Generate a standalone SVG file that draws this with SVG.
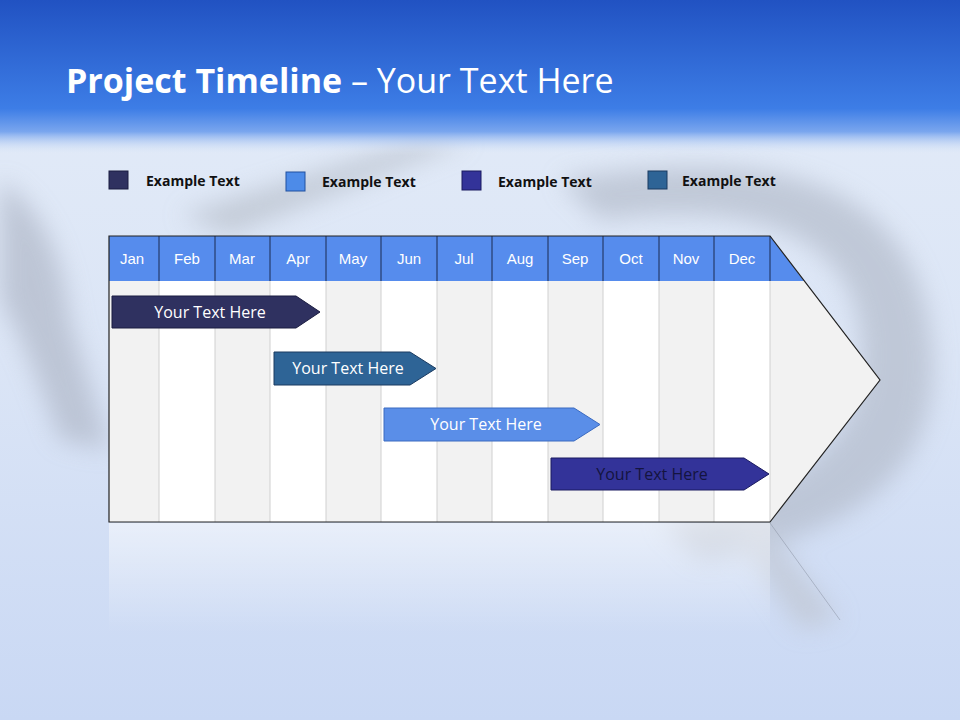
<svg xmlns="http://www.w3.org/2000/svg" width="960" height="720" viewBox="0 0 960 720">
<defs>
<linearGradient id="top" x1="0" y1="0" x2="0" y2="1"><stop offset="0" stop-color="#2152c2"/><stop offset="0.7" stop-color="#3d7de6"/><stop offset="0.85" stop-color="#7aa6ee"/><stop offset="1" stop-color="#e4ecf8" stop-opacity="0"/></linearGradient>
<linearGradient id="bg" x1="0" y1="0" x2="0" y2="1"><stop offset="0" stop-color="#e4ecf8"/><stop offset="0.5" stop-color="#dbe5f6"/><stop offset="1" stop-color="#c9d8f4"/></linearGradient>
<linearGradient id="refl" x1="0" y1="0" x2="0" y2="1"><stop offset="0" stop-color="#ffffff" stop-opacity="0.5"/><stop offset="1" stop-color="#ffffff" stop-opacity="0"/></linearGradient>
<filter id="blur"><feGaussianBlur stdDeviation="12"/></filter>
<style>
.mon{font-family:"Liberation Sans",Arial,sans-serif;font-size:15px;fill:#ffffff;text-anchor:middle}
.leg{font-family:"Open Sans","Liberation Sans",sans-serif;font-size:14px;font-weight:bold;fill:#111}
.bar{font-family:"Open Sans","Liberation Sans",sans-serif;font-size:16px;text-anchor:middle}
.w{fill:#ffffff}
.sep{stroke:#d0d0d0;stroke-width:1}
.hsep{stroke:#1a2a50;stroke-width:1}
</style>
</defs>
<rect width="960" height="720" fill="url(#bg)"/>
<g filter="url(#blur)" opacity="0.7">
<path d="M180 215 L420 140 L470 140 L230 235 Z" fill="#b8bfca"/>
<path d="M560 180 Q900 120 930 330 Q960 520 700 560 L660 520 Q880 480 860 330 Q840 190 600 220 Z" fill="#b4bccb"/>
<path d="M0 180 Q60 220 70 320 L110 450 L60 440 Q20 330 0 300 Z" fill="#b0b8c8"/>
<path d="M760 520 L840 620 L800 630 L740 540 Z" fill="#c0c6d2"/>
</g>
<rect width="960" height="155" fill="url(#top)"/>
<text x="66" y="93" font-family="'Open Sans','Liberation Sans',sans-serif" font-size="34" fill="#ffffff"><tspan font-weight="bold">Project Timeline</tspan> – Your Text Here</text>
<g id="legend">
<rect x="109" y="171" width="19" height="18" fill="#2f3160" stroke="#1a1c40"/><text class="leg" x="146" y="186">Example Text</text>
<rect x="286" y="172" width="19" height="19" fill="#4d8be8" stroke="#2050a0"/><text class="leg" x="322" y="187">Example Text</text>
<rect x="462" y="171" width="19" height="19" fill="#333399" stroke="#1a1a60"/><text class="leg" x="498" y="187">Example Text</text>
<rect x="648" y="171" width="19" height="18" fill="#2e6496" stroke="#1a3a60"/><text class="leg" x="682" y="186">Example Text</text>
</g>
<g id="reflection"><rect x="109" y="523" width="661" height="110" fill="url(#refl)"/><line x1="770" y1="523" x2="840" y2="620" stroke="#8890a0" opacity="0.5"/></g>
<g id="chart">
<path d="M109 236 H770 L880 380 L770 522 H109 Z" fill="#f2f2f2"/>
<rect class="w" x="159" y="281" width="56" height="241"/>
<rect class="w" x="270" y="281" width="56" height="241"/>
<rect class="w" x="381" y="281" width="56" height="241"/>
<rect class="w" x="492" y="281" width="56" height="241"/>
<rect class="w" x="603" y="281" width="56" height="241"/>
<rect class="w" x="714" y="281" width="56" height="241"/>
<g class="sep"><line x1="159" y1="281" x2="159" y2="522"/><line x1="215" y1="281" x2="215" y2="522"/><line x1="270" y1="281" x2="270" y2="522"/><line x1="326" y1="281" x2="326" y2="522"/><line x1="381" y1="281" x2="381" y2="522"/><line x1="437" y1="281" x2="437" y2="522"/><line x1="492" y1="281" x2="492" y2="522"/><line x1="548" y1="281" x2="548" y2="522"/><line x1="603" y1="281" x2="603" y2="522"/><line x1="659" y1="281" x2="659" y2="522"/><line x1="714" y1="281" x2="714" y2="522"/><line x1="770" y1="281" x2="770" y2="522"/></g>
<path d="M109 236 H770 L804 281 H109 Z" fill="#568ced"/>
<g class="hsep"><line x1="159" y1="236" x2="159" y2="281"/><line x1="215" y1="236" x2="215" y2="281"/><line x1="270" y1="236" x2="270" y2="281"/><line x1="326" y1="236" x2="326" y2="281"/><line x1="381" y1="236" x2="381" y2="281"/><line x1="437" y1="236" x2="437" y2="281"/><line x1="492" y1="236" x2="492" y2="281"/><line x1="548" y1="236" x2="548" y2="281"/><line x1="603" y1="236" x2="603" y2="281"/><line x1="659" y1="236" x2="659" y2="281"/><line x1="714" y1="236" x2="714" y2="281"/><line x1="770" y1="236" x2="770" y2="281"/></g>
<path d="M109 236 H770 L880 380 L770 522 H109 Z" fill="none" stroke="#222" stroke-width="1.2"/>
<g class="mon"><text x="132" y="264">Jan</text><text x="187" y="264">Feb</text><text x="242" y="264">Mar</text><text x="298" y="264">Apr</text><text x="353" y="264">May</text><text x="409" y="264">Jun</text><text x="464" y="264">Jul</text><text x="520" y="264">Aug</text><text x="575" y="264">Sep</text><text x="631" y="264">Oct</text><text x="686" y="264">Nov</text><text x="742" y="264">Dec</text></g>
</g>
<g id="bar1"><path d="M112 296 H296 L320 312 L296 328 H112 Z" fill="#2f3160" stroke="#1a1c40"/><text class="bar" x="210" y="318" fill="#fff">Your  Text Here</text></g>
<g id="bar2"><path d="M274 352 H410 L436 368.5 L410 385 H274 Z" fill="#2e6496" stroke="#1a3a60"/><text class="bar" x="348" y="374" fill="#fff">Your  Text Here</text></g>
<g id="bar3"><path d="M384 408 H574 L600 424.5 L574 441 H384 Z" fill="#5a8ee8" stroke="#3a6ac0"/><text class="bar" x="486" y="430" fill="#fff">Your  Text Here</text></g>
<g id="bar4"><path d="M551 458 H744 L769 474 L744 490 H551 Z" fill="#333399" stroke="#1a1a60"/><text class="bar" x="652" y="480" fill="#141440">Your  Text Here</text></g>
</svg>
